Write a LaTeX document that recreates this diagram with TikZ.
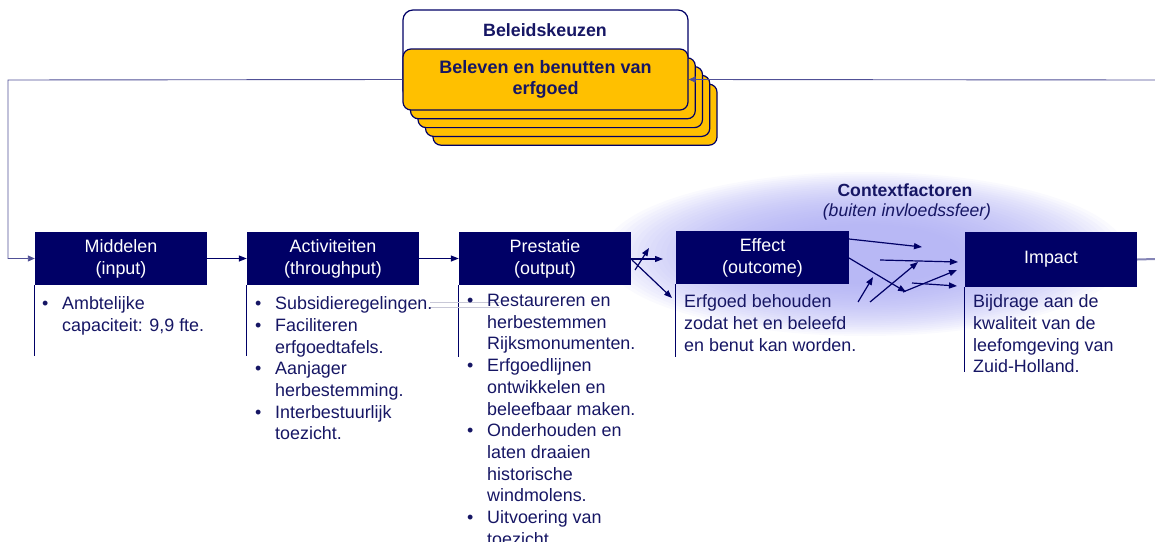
\documentclass[tikz,border=0pt]{standalone}
\usepackage{fontspec}
\setmainfont{Liberation Sans}
\usetikzlibrary{arrows.meta}
\definecolor{navy}{RGB}{0,0,102}
\definecolor{txt}{RGB}{22,22,100}
\definecolor{gold}{RGB}{255,192,0}
\definecolor{glowc}{RGB}{168,168,243}
\definecolor{fb}{RGB}{80,80,150}
\definecolor{faint}{RGB}{200,200,215}
\begin{document}
\begin{tikzpicture}[x=1pt,y=-1pt,
  hdr/.style={fill=navy, text=white, minimum width=172pt, minimum height=53pt, inner sep=0pt, align=center, font=\fontsize{17.9}{22}\selectfont},
  body/.style={anchor=north west, inner sep=0pt, align=left, text=txt, font=\fontsize{17.9}{21.7}\selectfont},
  arr/.style={draw=navy, line width=1.2pt, -{Triangle[length=8pt,width=6pt]}},
  sarr/.style={draw=navy, line width=1.2pt, -{Triangle[length=8pt,width=6pt]}},
  fbl/.style={draw=fb, line width=0.9pt},
  card/.style={draw=navy, fill=gold, line width=1.2pt, rounded corners=8pt},
  stem/.style={draw=navy, line width=1pt}]
\useasboundingbox (0,0) rectangle (1155,541);
% glow
\foreach \i in {0,...,29}{
  \pgfmathsetmacro{\rx}{262*(1-\i*0.022)}
  \pgfmathsetmacro{\ry}{82*(1-\i*0.022)}
  \fill[glowc, opacity=0.055] (865,254) ellipse [x radius=\rx pt, y radius=\ry pt];
}
% policy stack
\draw[navy, fill=white, line width=1.2pt, rounded corners=10pt] (403,10) rectangle (688,100);
\node[font=\bfseries\fontsize{17.8}{20}\selectfont, text=txt] (bel) at (545,30) {Beleidskeuzen};
\foreach \k in {4,3,2,1}{
  \draw[card] ({403+7.5*\k},{49+8.8*\k}) rectangle ({688+7.25*\k},{110+8.8*\k});
}
\node[card, minimum width=285pt, minimum height=61pt, inner sep=0pt, align=center,
      font=\bfseries\fontsize{18}{21.5}\selectfont, text=txt] (card0) at (545.5,79.5)
      {Beleven en benutten van\\erfgoed};
% feedback loop
\coordinate (fbR) at (1155,80);
\coordinate (fbL) at (8,80);
\coordinate (impR) at (1155,259);
\draw[fbl, -{Triangle[length=7pt,width=6pt]}] (fbR) -- (card0.east);
% headers
\node[hdr] (mid) at (121,258.5) {Middelen\\(input)};
\node[hdr] (act) at (333,258.5) {Activiteiten\\(throughput)};
\node[hdr] (pre) at (545,258.5) {Prestatie\\(output)};
\node[hdr, minimum width=173pt] (eff) at (762.5,257.5) {Effect\\(outcome)};
\node[hdr, minimum height=55pt] (imp) at (1051,259.5) {Impact};
\draw[fbl, -{Triangle[length=7pt,width=6pt]}] (card0.west) -- (fbL) |- (mid.west);
\draw[fb!70, line width=2pt] (imp.east) -- (impR);
\draw[arr] (mid.east) -- (act.west);
\draw[arr] (act.east) -- (pre.west);
% stems
\draw[stem] (mid.south west) -- ++(0,71);
\draw[stem] (act.south west) -- ++(0,71);
\draw[stem] (pre.south west) -- ++(0,72);
\draw[stem] (eff.south west) -- ++(0,73);
\draw[stem] (imp.south west) -- ++(0,85);
% faint artifact lines
\draw[faint, line width=0.5pt] (430,302) -- (500,302);
\draw[faint, line width=0.5pt] (430,307) -- (500,307);
% body texts
\node[body] (tmid) at (42,296.5) {\makebox[20pt][l]{•}Ambtelijke\\\hspace*{20pt}capaciteit: 9,9 fte.};
\node[body] (tact) at (255,296.5) {\makebox[20pt][l]{•}Subsidieregelingen.\\
  \makebox[20pt][l]{•}Faciliteren\\\hspace*{20pt}erfgoedtafels.\\
  \makebox[20pt][l]{•}Aanjager\\\hspace*{20pt}herbestemming.\\
  \makebox[20pt][l]{•}Interbestuurlijk\\\hspace*{20pt}toezicht.};
\node[body] (tpre) at (467,294) {\makebox[20pt][l]{•}Restaureren en\\\hspace*{20pt}herbestemmen\\\hspace*{20pt}Rijksmonumenten.\\
  \makebox[20pt][l]{•}Erfgoedlijnen\\\hspace*{20pt}ontwikkelen en\\\hspace*{20pt}beleefbaar maken.\\
  \makebox[20pt][l]{•}Onderhouden en\\\hspace*{20pt}laten draaien\\\hspace*{20pt}historische\\\hspace*{20pt}windmolens.\\
  \makebox[20pt][l]{•}Uitvoering van\\\hspace*{20pt}toezicht.};
\node[body] (teff) at (684,294.5) {Erfgoed behouden\\zodat het en beleefd\\en benut kan worden.};
\node[body] (timp) at (973,294.5) {Bijdrage aan de\\kwaliteit van de\\leefomgeving van\\Zuid-Holland.};
% context
\node[font=\bfseries\fontsize{17.6}{20}\selectfont, text=txt] (ctx) at (905,190) {Contextfactoren};
\node[font=\itshape\fontsize{17.6}{20}\selectfont, text=txt] (ctxs) at (907,212) {(buiten invloedssfeer)};
% context arrows
\coordinate (a1s) at (631,259); \coordinate (a1e) at (663,259);
\coordinate (a2s) at (632,260); \coordinate (a2e) at (672,298);
\coordinate (a3s) at (635,270); \coordinate (a3e) at (649,248);
\draw[sarr] (a1s) -- (a1e);
\draw[sarr] (a2s) -- (a2e);
\draw[sarr] (a3s) -- (a3e);
\coordinate (b1s) at (849,239); \coordinate (b1e) at (922,247);
\coordinate (b2s) at (880,260); \coordinate (b2e) at (958,262);
\coordinate (b3s) at (849,258); \coordinate (b3e) at (906,292);
\coordinate (b4s) at (903,292); \coordinate (b4e) at (957,270);
\coordinate (b5s) at (912,283); \coordinate (b5e) at (957,286);
\coordinate (b6s) at (870,302); \coordinate (b6e) at (918,262);
\coordinate (b7s) at (858,302); \coordinate (b7e) at (873,277);
\foreach \n in {b1,b2,b3,b4,b5,b6,b7}{\draw[sarr] (\n s) -- (\n e);}
\end{tikzpicture}
\end{document}
